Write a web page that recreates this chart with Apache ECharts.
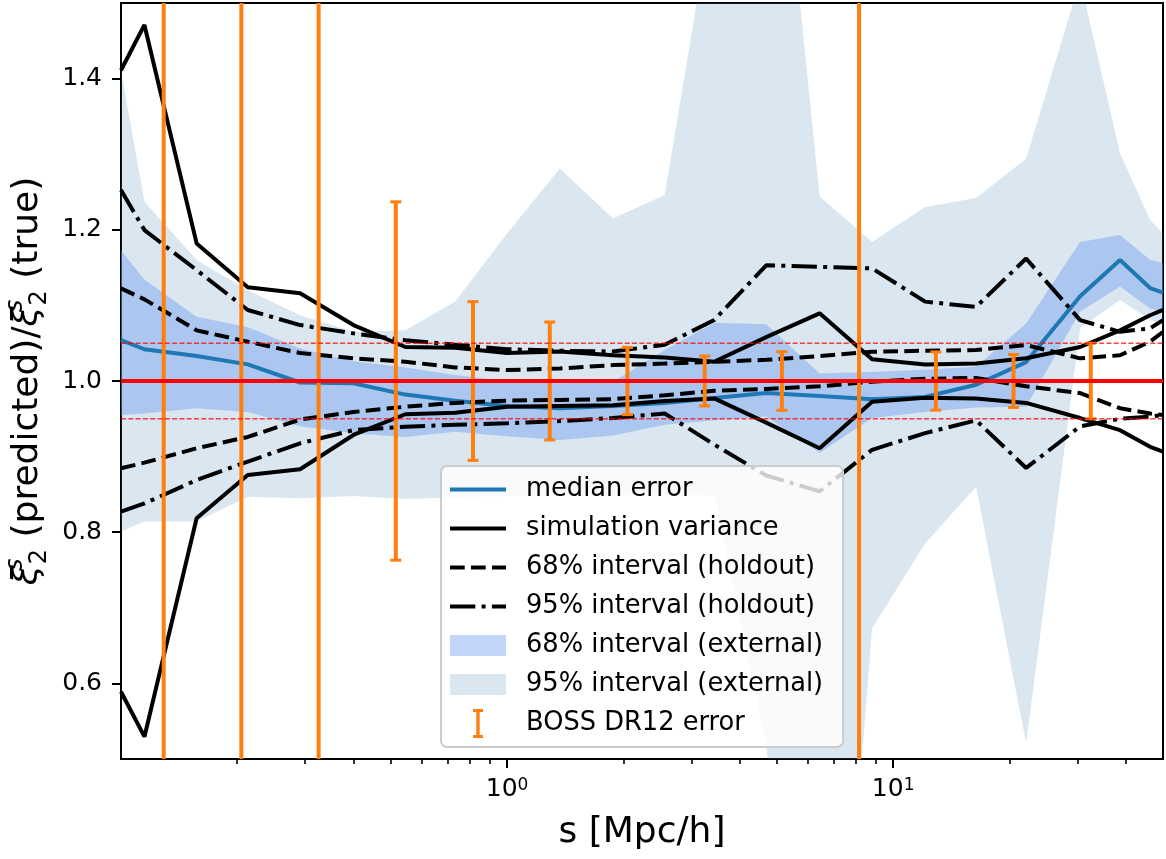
<!DOCTYPE html>
<html><head><meta charset="utf-8">
<script src="https://cdn.jsdelivr.net/npm/echarts@6/dist/echarts.min.js"></script>
<style>html,body{margin:0;padding:0;background:#fff}#c{width:1166px;height:859px}</style>
</head><body><div id="c"></div>
<script>
// ---- data ----
const xMin = 0.1, xMax = 50;
const s = [0.1, 0.115, 0.157, 0.213, 0.291, 0.40, 0.545, 0.734, 1.0, 1.37, 1.88, 2.56, 3.44, 4.69, 6.45, 8.82, 12.1, 16.4, 22.1, 30.5, 38.7, 46.3, 50];
const median = [1.054, 1.042, 1.033, 1.022, 0.998, 0.997, 0.982, 0.974, 0.967, 0.964, 0.967, 0.971, 0.9775, 0.984, 0.980, 0.976, 0.979, 0.995, 1.025, 1.112, 1.160, 1.123, 1.117];
const ext68Lo = [0.955, 0.957, 0.964, 0.959, 0.940, 0.931, 0.926, 0.933, 0.927, 0.922, 0.928, 0.942, 0.948, 0.953, 0.905, 0.951, 0.959, 0.965, 0.966, 1.092, 1.125, 1.096, 1.092];
const ext68Hi = [1.173, 1.134, 1.085, 1.071, 1.043, 1.026, 1.018, 1.008, 1.000, 0.997, 0.999, 1.041, 1.077, 1.075, 1.010, 1.012, 1.015, 1.019, 1.076, 1.184, 1.193, 1.160, 1.156];
const ext95Lo = [0.801, 0.814, 0.814, 0.847, 0.845, 0.848, 0.844, 0.846, 0.848, 0.850, 0.849, 0.850, 0.849, 0.52, -0.2, 0.673, 0.785, 0.860, 0.521, 1.070, 1.107, 1.081, 1.074];
const ext95Hi = [1.41, 1.237, 1.160, 1.120, 1.087, 1.065, 1.067, 1.105, 1.195, 1.281, 1.215, 1.246, 1.639, 1.94, 1.244, 1.184, 1.230, 1.242, 1.294, 1.53, 1.301, 1.213, 1.195];
const simHi = [1.411, 1.471, 1.182, 1.124, 1.116, 1.074, 1.045, 1.044, 1.037, 1.039, 1.034, 1.031, 1.0255, 1.058, 1.0895, 1.0287, 1.0218, 1.023, 1.030, 1.045, 1.067, 1.087, 1.094];
const simLo = [0.589, 0.5295, 0.8185, 0.8757, 0.8833, 0.9286, 0.956, 0.958, 0.966, 0.967, 0.968, 0.9736, 0.977, 0.945, 0.911, 0.9726, 0.978, 0.977, 0.971, 0.951, 0.935, 0.913, 0.9065];
const hold68Hi = [1.1225, 1.108, 1.067, 1.052, 1.037, 1.030, 1.0255, 1.018, 1.0145, 1.0165, 1.021, 1.023, 1.0255, 1.028, 1.033, 1.0387, 1.040, 1.041, 1.0476, 1.030, 1.034, 1.052, 1.065];
const hold68Lo = [0.8846, 0.892, 0.911, 0.926, 0.949, 0.959, 0.966, 0.971, 0.974, 0.975, 0.976, 0.981, 0.987, 0.9895, 0.993, 0.999, 1.003, 1.004, 0.993, 0.984, 0.964, 0.957, 0.955];
const hold95Hi = [1.2525, 1.1996, 1.1467, 1.0939, 1.074, 1.063, 1.054, 1.048, 1.042, 1.040, 1.039, 1.048, 1.0806, 1.153, 1.151, 1.149, 1.105, 1.098, 1.162, 1.0806, 1.065, 1.0697, 1.0806];
const hold95Lo = [0.8272, 0.838, 0.869, 0.8934, 0.9176, 0.935, 0.9396, 0.942, 0.944, 0.947, 0.951, 0.957, 0.916, 0.875, 0.854, 0.909, 0.931, 0.948, 0.885, 0.940, 0.950, 0.953, 0.955];
const bossS = [0.129, 0.205, 0.325, 0.515, 0.816, 1.29, 2.05, 3.25, 5.15, 8.16, 12.9, 20.5, 32.5];
const bossErr = [1.0, 1.0, 1.0, 0.237, 0.105, 0.078, 0.0445, 0.033, 0.0388, 1.0, 0.0385, 0.035, 0.050];
const refLevel = [1.0];
const tolLevels = [0.95, 1.05];
const xMajorTicks = [1, 10];
const xMinorTicks = [0.2,0.3,0.4,0.5,0.6,0.7,0.8,0.9,2,3,4,5,6,7,8,9,20,30,40];
const yTicks = [0.6, 0.8, 1.0, 1.2, 1.4];

// ---- styles ----
const FONT = 'DejaVu Sans';
const C95 = 'rgba(70,130,180,0.2)';
const C68 = 'rgba(100,149,237,0.4)';
const ORANGE = '#ff7f0e';
const BLUE = '#1f77b4';
const DASH = [14.7, 6.3];
const DASHDOT = [25.3, 6.3, 4, 6.3];
const BOX = 'path://M0,0M56,29';
const rectIcon = BOX + 'M0,4L56,4L56,25L0,25Z';
const solidIcon = BOX + 'M0,12.5L56,12.5L56,16.5L0,16.5Z';
const dashIcon = BOX + 'M0,12.5L14.7,12.5L14.7,16.5L0,16.5Z M21,12.5L35.7,12.5L35.7,16.5L21,16.5Z M42,12.5L56,12.5L56,16.5L42,16.5Z';
const dashDotIcon = BOX + 'M0,12.5L25.3,12.5L25.3,16.5L0,16.5Z M31.6,12.5L35.6,12.5L35.6,16.5L31.6,16.5Z M41.9,12.5L56,12.5L56,16.5L41.9,16.5Z';
const ibeamIcon = BOX + 'M23,0L33,0L33,3L29.7,3L29.7,26L33,26L33,29L23,29L23,26L26.3,26L26.3,3L23,3Z';

const pairs = ys => s.map((x, i) => [x, ys[i]]);

function band(name, lo, hi, color, z) {
  return {
    type: 'custom', name: name, z: z, clip: true, silent: true,
    itemStyle: {color: color},
    encode: {x: 0, y: [1, 2]},
    data: s.map((x, i) => [x, lo[i], hi[i]]),
    renderItem: function (params, api) {
      if (params.dataIndexInside !== 0) return null;
      const n = params.dataInsideLength;
      const pts = [];
      for (let i = 0; i < n; i++) pts.push(api.coord([api.value(0, i), api.value(2, i)]));
      for (let i = n - 1; i >= 0; i--) pts.push(api.coord([api.value(0, i), api.value(1, i)]));
      return {type: 'polygon', shape: {points: pts}, style: {fill: color}};
    }
  };
}
function line(name, ys, color, type, z) {
  return {type: 'line', name: name, data: pairs(ys), symbol: 'none', silent: true, z: z,
          itemStyle: {color: color}, lineStyle: {color: color, width: 4, type: type}};
}

const series = [
  band('95% interval (external)', ext95Lo, ext95Hi, C95, 1),
  band('68% interval (external)', ext68Lo, ext68Hi, C68, 2),
  line('median error', median, BLUE, 'solid', 3),
  line('simulation variance', simHi, '#000', 'solid', 3),
  line('simulation variance', simLo, '#000', 'solid', 3),
  line('68% interval (holdout)', hold68Hi, '#000', DASH, 3),
  line('68% interval (holdout)', hold68Lo, '#000', DASH, 3),
  line('95% interval (holdout)', hold95Hi, '#000', DASHDOT, 3),
  line('95% interval (holdout)', hold95Lo, '#000', DASHDOT, 3),
  {
    type: 'custom', name: 'BOSS DR12 error', z: 4, clip: true, silent: true,
    itemStyle: {color: ORANGE},
    encode: {x: 0, y: [1, 2]},
    data: bossS.map((x, i) => [x, 1 - bossErr[i], 1 + bossErr[i]]),
    renderItem: function (params, api) {
      const x = api.value(0), lo = api.value(1), hi = api.value(2);
      const t = api.coord([x, hi]), b = api.coord([x, lo]);
      const cw = 5.5;
      return {type: 'group', children: [
        {type: 'line', shape: {x1: t[0], y1: t[1], x2: b[0], y2: b[1]}, style: {stroke: ORANGE, lineWidth: 4}},
        {type: 'line', shape: {x1: t[0] - cw, y1: t[1], x2: t[0] + cw, y2: t[1]}, style: {stroke: ORANGE, lineWidth: 3}},
        {type: 'line', shape: {x1: b[0] - cw, y1: b[1], x2: b[0] + cw, y2: b[1]}, style: {stroke: ORANGE, lineWidth: 3}}
      ]};
    }
  },
  ...tolLevels.map(v => ({type: 'line', name: '_tol' + v, data: [[xMin, v], [xMax, v]], symbol: 'none', silent: true, z: 5,
    lineStyle: {color: 'rgba(255,0,0,0.75)', width: 1.4, type: [5, 2.3]}})),
  ...refLevel.map(v => ({type: 'line', name: '_ref', data: [[xMin, v], [xMax, v]], symbol: 'none', silent: true, z: 6,
    lineStyle: {color: '#ff0000', width: 4}}))
];

const chart = echarts.init(document.getElementById('c'), null, {renderer: 'canvas'});
chart.setOption({
  animation: false,
  backgroundColor: '#fff',
  textStyle: {fontFamily: FONT},
  grid: {left: 121, right: 3, top: 3, bottom: 100, containLabel: false, outerBoundsMode: 'none',
         show: true, borderColor: '#000', borderWidth: 2, backgroundColor: 'transparent'},
  xAxis: [{
    type: 'log', logBase: 10, min: xMin, max: xMax, position: 'bottom',
    axisLine: {show: true, lineStyle: {color: '#000', width: 2}},
    axisTick: {show: true, length: 9, lineStyle: {color: '#000', width: 2}, customValues: xMajorTicks},
    axisLabel: {customValues: xMajorTicks, margin: 18, color: '#000', fontFamily: FONT,
      formatter: v => '{b|10}{e|' + Math.round(Math.log10(v)) + '}',
      rich: {b: {fontSize: 25, fontFamily: FONT, color: '#000'}, e: {fontSize: 17, fontFamily: FONT, color: '#000', verticalAlign: 'top'}}},
    splitLine: {show: false}, minorTick: {show: false},
    name: 's [Mpc/h]', nameLocation: 'middle', nameGap: 56,
    nameTextStyle: {fontSize: 36, fontFamily: FONT, color: '#000'}
  }, {
    type: 'log', logBase: 10, min: xMin, max: xMax, position: 'bottom', gridIndex: 0,
    axisLine: {show: false},
    axisTick: {show: true, length: 5, lineStyle: {color: '#000', width: 1.6}, customValues: xMinorTicks},
    axisLabel: {show: false}, splitLine: {show: false}
  }],
  yAxis: {
    type: 'value', min: 0.5, max: 1.5,
    axisLine: {show: true, lineStyle: {color: '#000', width: 2}},
    axisTick: {show: true, length: 9, lineStyle: {color: '#000', width: 2}, customValues: yTicks},
    axisLabel: {customValues: yTicks, margin: 19, fontSize: 25, color: '#000', fontFamily: FONT, formatter: v => v.toFixed(1)},
    splitLine: {show: false},
    name: '{x|ξ}{sp|s}{sb|2} (predicted)/{x|ξ}{sp|s}{sb|2} (true)',
    nameLocation: 'middle', nameGap: 41, nameRotate: 90,
    nameTextStyle: {fontSize: 36, fontFamily: FONT, color: '#000', lineHeight: 48,
      rich: {
        x: {fontSize: 36, fontFamily: FONT, fontStyle: 'italic', color: '#000', lineHeight: 48},
        sp: {fontSize: 24, fontFamily: FONT, fontStyle: 'italic', color: '#000', verticalAlign: 'top', lineHeight: 24, width: 1},
        sb: {fontSize: 24, fontFamily: FONT, color: '#000', verticalAlign: 'bottom', lineHeight: 24}
      }}
  },
  legend: {
    orient: 'vertical', left: 441, top: 466, z: 10,
    itemWidth: 56, itemHeight: 29, itemGap: 10,
    padding: [9, 20, 9, 9],
    backgroundColor: 'rgba(255,255,255,0.8)', borderColor: '#cccccc', borderWidth: 2, borderRadius: 6,
    textStyle: {fontSize: 25.7, color: '#000', fontFamily: FONT, padding: [0, 0, 0, 15]},
    selectedMode: false,
    data: [
      {name: 'median error', icon: solidIcon, itemStyle: {color: BLUE, borderWidth: 0}},
      {name: 'simulation variance', icon: solidIcon, itemStyle: {color: '#000', borderWidth: 0}},
      {name: '68% interval (holdout)', icon: dashIcon, itemStyle: {color: '#000', borderWidth: 0}},
      {name: '95% interval (holdout)', icon: dashDotIcon, itemStyle: {color: '#000', borderWidth: 0}},
      {name: '68% interval (external)', icon: rectIcon, itemStyle: {color: C68, borderWidth: 0}},
      {name: '95% interval (external)', icon: rectIcon, itemStyle: {color: C95, borderWidth: 0}},
      {name: 'BOSS DR12 error', icon: ibeamIcon, itemStyle: {color: ORANGE, borderWidth: 0}}
    ]
  },
  series: series
});
</script>
</body></html>
